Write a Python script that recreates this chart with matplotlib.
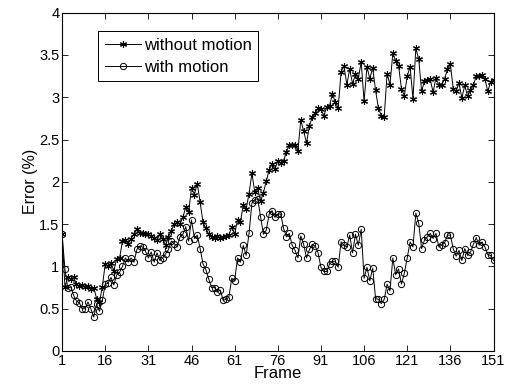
import numpy as np
import matplotlib
matplotlib.use("Agg")
import matplotlib.pyplot as plt

plt.rcParams['font.family'] = ['Liberation Sans', 'DejaVu Sans']

frames = np.arange(1, 152)

# error values, frame 1..151
without_motion = [
    1.38, 0.76, 0.87, 0.85, 0.87, 0.79, 0.77, 0.78, 0.76, 0.77,
    0.73, 0.75, 0.62, 0.58, 0.76, 1.03, 1.00, 1.04, 0.95, 1.09,
    1.10, 1.30, 1.31, 1.27, 1.33, 1.38, 1.44, 1.39, 1.40, 1.38,
    1.38, 1.36, 1.34, 1.31, 1.38, 1.33, 1.25, 1.35, 1.42, 1.50,
    1.52, 1.50, 1.58, 1.70, 1.64, 1.93, 1.85, 1.98, 1.76, 1.52,
    1.45, 1.38, 1.35, 1.34, 1.36, 1.34, 1.35, 1.36, 1.37, 1.47,
    1.38, 1.55, 1.52, 1.73, 1.68, 1.86, 2.10, 1.88, 1.93, 1.77,
    1.87, 2.01, 2.14, 2.21, 2.15, 2.25, 2.22, 2.25, 2.35, 2.44,
    2.44, 2.44, 2.37, 2.73, 2.60, 2.46, 2.66, 2.77, 2.81, 2.87,
    2.86, 2.78, 2.88, 2.90, 3.04, 2.94, 2.87, 3.30, 3.37, 3.15,
    3.33, 3.16, 3.27, 3.22, 3.42, 2.95, 3.36, 3.22, 3.35, 3.08,
    2.87, 2.78, 2.77, 3.28, 3.15, 3.52, 3.43, 3.37, 3.10, 3.02,
    3.25, 3.36, 2.98, 3.58, 3.45, 3.07, 3.19, 3.20, 3.21, 3.06,
    3.23, 3.14, 3.15, 3.22, 3.33, 3.39, 3.10, 3.07, 3.17, 2.99,
    3.14, 3.01, 3.09, 3.14, 3.25, 3.25, 3.26, 3.22, 3.07, 3.18,
    3.20,
]

with_motion = [
    1.38, 0.97, 0.74, 0.76, 0.66, 0.59, 0.57, 0.50, 0.50, 0.58,
    0.50, 0.40, 0.55, 0.47, 0.60, 0.79, 0.80, 0.87, 0.78, 0.90,
    0.93, 1.00, 1.10, 1.05, 1.10, 1.05, 1.20, 1.24, 1.23, 1.18,
    1.10, 1.17, 1.05, 1.16, 1.07, 1.10, 1.15, 1.20, 1.30, 1.27,
    1.23, 1.35, 1.38, 1.47, 1.30, 1.55, 1.33, 1.37, 1.21, 1.03,
    0.96, 0.85, 0.75, 0.75, 0.70, 0.72, 0.60, 0.61, 0.64, 0.86,
    0.83, 1.10, 1.05, 1.25, 1.13, 1.39, 1.75, 1.79, 1.80, 1.59,
    1.38, 1.43, 1.62, 1.66, 1.58, 1.62, 1.62, 1.45, 1.35, 1.39,
    1.25, 1.19, 1.10, 1.36, 1.26, 1.10, 1.20, 1.26, 1.24, 1.16,
    0.99, 0.94, 0.94, 1.03, 1.06, 1.06, 0.99, 1.29, 1.25, 1.23,
    1.37, 1.16, 1.38, 1.25, 1.44, 0.86, 0.99, 0.83, 0.98, 0.62,
    0.61, 0.56, 0.61, 0.79, 0.71, 1.10, 0.90, 0.97, 0.79, 0.92,
    1.10, 1.29, 1.23, 1.63, 1.51, 1.21, 1.31, 1.35, 1.39, 1.33,
    1.39, 1.23, 1.25, 1.28, 1.37, 1.37, 1.21, 1.12, 1.19, 1.07,
    1.21, 1.13, 1.17, 1.26, 1.34, 1.25, 1.29, 1.23, 1.14, 1.13,
    1.07,
]

xticks = list(range(1, 152, 15))
yticks = np.arange(0, 4.01, 0.5)
ytick_labels = ['0', '0.5', '1', '1.5', '2', '2.5', '3', '3.5', '4']

fig = plt.figure(figsize=(5.13, 3.92), dpi=100)
ax = fig.add_axes([0.121, 0.1046, 0.841, 0.8631])

ax.plot(frames, without_motion, color='black', lw=0.7,
        marker=(6, 2, 0), ms=5, mew=0.8, label='without motion')
ax.plot(frames, with_motion, color='black', lw=0.7,
        marker='o', ms=4.5, mfc='none', mew=0.7, label='with motion')

ax.set_xlim(1, 151)
ax.set_ylim(0, 4)
ax.set_xticks(xticks)
ax.set_yticks(yticks)
ax.set_yticklabels(ytick_labels)
ax.tick_params(direction='in', top=True, right=True, labelsize=10.5,
               length=4, width=0.6, pad=2)
for s in ax.spines.values():
    s.set_linewidth(0.8)

ax.set_xlabel('Frame', fontsize=12, labelpad=-1)
ax.set_ylabel('Error (%)', fontsize=11.5, labelpad=1)

leg = ax.legend(loc='upper left', bbox_to_anchor=(0.083, 0.945),
                fontsize=12, handlelength=2.2, handletextpad=0.15,
                borderpad=0.4, labelspacing=0.4, fancybox=False,
                framealpha=1, borderaxespad=0)
leg.get_frame().set_edgecolor('black')
leg.get_frame().set_linewidth(0.7)

fig.savefig('out.png', dpi=100)
